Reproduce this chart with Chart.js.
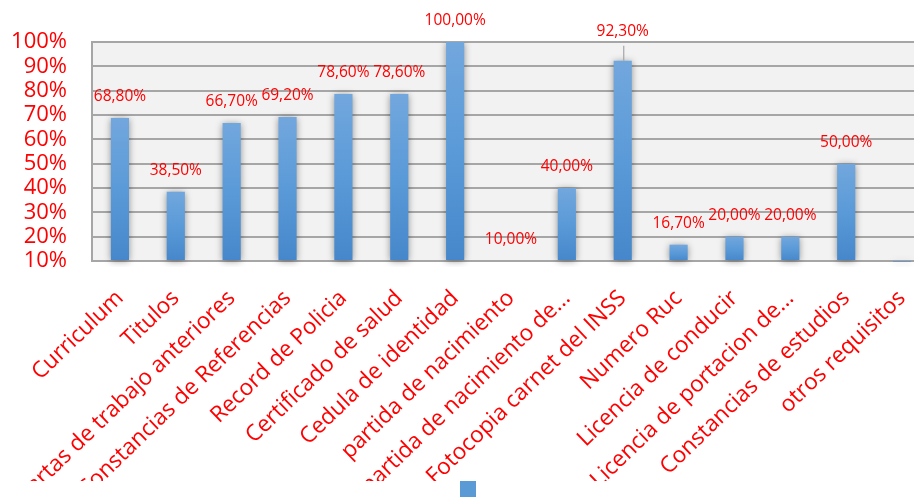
<!DOCTYPE html>
<html>
<head>
<meta charset="utf-8">
<script src="https://cdn.jsdelivr.net/npm/chart.js@4/dist/chart.umd.min.js"></script>
<style>
  html, body { margin: 0; padding: 0; background: #ffffff; overflow: hidden; }
  #wrap { position: relative; width: 930px; height: 507px; }
</style>
</head>
<body>
<div id="wrap"><canvas id="chart"></canvas></div>
<script>
// Requisitos solicitados (porcentaje)
const categories = [
  'Curriculum',
  'Titulos',
  'Cartas de trabajo anteriores',
  'Constancias de Referencias',
  'Record de Policia',
  'Certificado de salud',
  'Cedula de identidad',
  'partida de nacimiento',
  'partida de nacimiento de...',
  'Fotocopia carnet del INSS',
  'Numero Ruc',
  'Licencia de conducir',
  'Licencia de portacion de...',
  'Constancias de estudios',
  'otros requisitos'
];
const values = [68.8, 38.5, 66.7, 69.2, 78.6, 78.6, 100, 10, 40, 92.3, 16.7, 20, 20, 50, 9.85];
const yTicks = [10, 20, 30, 40, 50, 60, 70, 80, 90, 100];
const axisMin = 10;
const axisMax = 100;

const RED = '#ff0000';
const FONT = "'Open Sans', 'DejaVu Sans', sans-serif";

const fmtPct = v => v.toFixed(2).replace('.', ',') + '%';

// Per-bar vertical gradient, lighter at the top
function barFill(ctx) {
  const chart = ctx.chart;
  const area = chart.chartArea;
  if (!area || ctx.type !== 'data') return '#5b9bd5';
  const y = chart.scales.y;
  const top = y.getPixelForValue(Math.max(ctx.raw, y.min));
  const bottom = area.bottom;
  if (!(bottom - top > 1)) return '#5591d0';
  const g = chart.ctx.createLinearGradient(0, top, 0, bottom);
  g.addColorStop(0, '#72a7dd');
  g.addColorStop(0.5, '#5a9ad8');
  g.addColorStop(1, '#4687cb');
  return g;
}

// Light grey plot background
const plotBackground = {
  id: 'plotBackground',
  beforeDraw(chart) {
    const {ctx, chartArea: a} = chart;
    ctx.save();
    ctx.fillStyle = '#f2f2f2';
    ctx.fillRect(a.left, a.top, a.right - a.left, a.bottom - a.top);
    ctx.restore();
  }
};

// Soft outer shadow around the bars
const barShadow = {
  id: 'barShadow',
  beforeDatasetDraw(chart) {
    const ctx = chart.ctx;
    ctx.save();
    ctx.shadowColor = 'rgba(0,0,0,0.42)';
    ctx.shadowBlur = 7;
    ctx.shadowOffsetX = 0;
    ctx.shadowOffsetY = 1;
  },
  afterDatasetDraw(chart) {
    chart.ctx.restore();
  }
};

// Value labels above each bar; the INSS label sits higher with a leader line
const leaderLabel = { index: 9, lift: 29 };
const valueLabels = {
  id: 'valueLabels',
  afterDatasetsDraw(chart) {
    const {ctx} = chart;
    const yScale = chart.scales.y;
    const meta = chart.getDatasetMeta(0);
    ctx.save();
    ctx.font = '15.5px ' + FONT;
    ctx.fillStyle = RED;
    ctx.textAlign = 'center';
    ctx.textBaseline = 'middle';
    meta.data.forEach((bar, i) => {
      const v = values[i];
      if (v < yScale.min) return;
      const top = yScale.getPixelForValue(v);
      let lift = 21;
      if (i === leaderLabel.index) {
        lift = leaderLabel.lift;
        ctx.save();
        ctx.strokeStyle = '#a6a6a6';
        ctx.lineWidth = 1.2;
        ctx.beginPath();
        ctx.moveTo(bar.x + 1, top - lift + 14);
        ctx.lineTo(bar.x + 1, top);
        ctx.stroke();
        ctx.restore();
      }
      ctx.fillText(fmtPct(v), bar.x, top - lift);
    });
    ctx.restore();
  }
};

new Chart(document.getElementById('chart'), {
  type: 'bar',
  data: {
    labels: categories,
    datasets: [{
      label: '',
      data: values,
      base: axisMin,
      backgroundColor: barFill,
      borderWidth: 0,
      inflateAmount: 0,
      categoryPercentage: 1,
      barPercentage: 0.325,
      clip: { left: 0, top: 0, right: 0, bottom: 6 }
    }]
  },
  options: {
    responsive: true,
    maintainAspectRatio: false,
    animation: false,
    events: [],
    layout: { padding: { top: 42, left: 0, right: 0, bottom: 0 } },
    plugins: {
      tooltip: { enabled: false },
      legend: {
        display: true,
        position: 'bottom',
        rtl: true,
        labels: {
          boxWidth: 16,
          boxHeight: 16,
          padding: 0,
          font: { size: 12, family: FONT },
          generateLabels(chart) {
            return [{
              text: '',
              fillStyle: '#5b9bd5',
              strokeStyle: '#5b9bd5',
              lineWidth: 0,
              hidden: false,
              datasetIndex: 0
            }];
          }
        }
      }
    },
    scales: {
      x: {
        grid: { display: false, drawTicks: false },
        border: { display: true, color: '#a6a6a6', width: 2 },
        ticks: {
          color: RED,
          font: { size: 22.5, family: FONT },
          autoSkip: false,
          maxRotation: 44,
          minRotation: 44,
          padding: 24
        },
        afterFit(scale) {
          scale.height = 220;
          scale.paddingLeft = 0;
          scale.paddingRight = 0;
        }
      },
      y: {
        min: axisMin,
        max: axisMax,
        afterBuildTicks(scale) { scale.ticks = yTicks.map(v => ({ value: v })); },
        grid: { color: '#a6a6a6', lineWidth: 2, drawTicks: false },
        border: { display: true, color: '#a6a6a6', width: 2 },
        ticks: {
          color: RED,
          font: { size: 22, family: FONT },
          autoSkip: false,
          padding: 25,
          callback: v => v + '%'
        },
        afterFit(scale) { scale.width = 92; }
      }
    }
  },
  plugins: [plotBackground, barShadow, valueLabels]
});
</script>
</body>
</html>
